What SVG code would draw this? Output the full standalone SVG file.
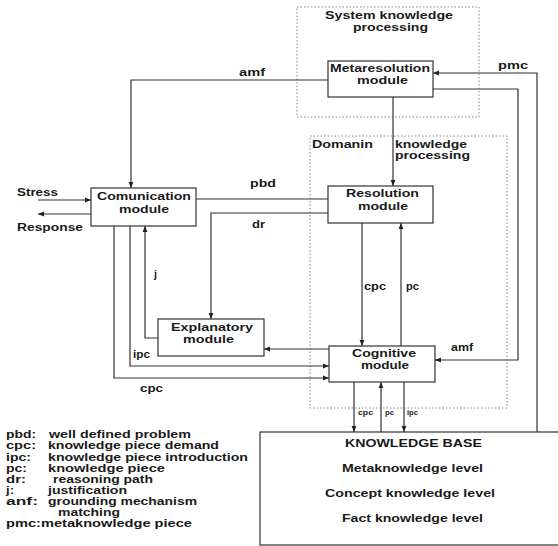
<svg xmlns="http://www.w3.org/2000/svg" width="558" height="546" viewBox="0 0 558 546">
<defs>
<marker id="ah" viewBox="0 0 10 10" refX="10" refY="5" markerWidth="6" markerHeight="6" orient="auto" markerUnits="userSpaceOnUse">
<path d="M0,1 L10,5 L0,9 Z" fill="#222"/>
</marker>
<style>
text{font-family:"Liberation Sans",Arial,sans-serif;font-weight:bold;font-size:11px;fill:#1a1a1a}
.sm{font-size:8px}
.box{fill:#fff;stroke:#333;stroke-width:1.2}
.dot{fill:none;stroke:#888;stroke-width:1;stroke-dasharray:1.5 2}
.c{fill:none;stroke:#333;stroke-width:1.2}
.a{marker-end:url(#ah)}
</style>
</defs>
<rect width="558" height="546" fill="#fff"/>
<g id="regions">
<rect class="dot" x="297" y="7" width="182" height="110"/>
<text x="325" y="19" textLength="128" lengthAdjust="spacingAndGlyphs">System knowledge</text>
<text x="353" y="31" textLength="75" lengthAdjust="spacingAndGlyphs">processing</text>
<rect class="dot" x="310" y="136" width="197" height="272"/>
<text x="312" y="148" textLength="61" lengthAdjust="spacingAndGlyphs">Domanin</text>
<text x="395" y="148" textLength="72" lengthAdjust="spacingAndGlyphs">knowledge</text>
<text x="395" y="159" textLength="75" lengthAdjust="spacingAndGlyphs">processing</text>
</g>
<g id="connectors">
<path class="c a" d="M328,80 H131 V188"/>
<path class="c a" d="M537,432 V73 H433"/>
<path class="c a" d="M433,89 H518 V360 H435"/>
<path class="c a" d="M393,97 V186"/>
<path class="c a" d="M38,200 H91"/>
<path class="c a" d="M91,214 H38"/>
<path class="c" d="M196,199 H328"/>
<path class="c a" d="M328,213 H211 V319"/>
<path class="c a" d="M158,338 H145 V226"/>
<path class="c a" d="M329,349 H264"/>
<path class="c a" d="M130,226 V366 H329"/>
<path class="c a" d="M114,226 V378 H329"/>
<path class="c a" d="M362,223 V346"/>
<path class="c a" d="M401,346 V223"/>
<path class="c a" d="M354,382 V432"/>
<path class="c a" d="M381,432 V382"/>
<path class="c a" d="M404,382 V432"/>
<text x="239" y="76" textLength="26" lengthAdjust="spacingAndGlyphs">amf</text>
<text x="498" y="69" textLength="30" lengthAdjust="spacingAndGlyphs">pmc</text>
<text x="451" y="351" textLength="22" lengthAdjust="spacingAndGlyphs">amf</text>
<text x="17" y="196" textLength="41" lengthAdjust="spacingAndGlyphs">Stress</text>
<text x="17" y="231" textLength="66" lengthAdjust="spacingAndGlyphs">Response</text>
<text x="250" y="187" textLength="26" lengthAdjust="spacingAndGlyphs">pbd</text>
<text x="252" y="228" textLength="13" lengthAdjust="spacingAndGlyphs">dr</text>
<text x="154" y="278">j</text>
<text x="364" y="290" textLength="22" lengthAdjust="spacingAndGlyphs">cpc</text>
<text x="406" y="290" textLength="13" lengthAdjust="spacingAndGlyphs">pc</text>
<text x="133" y="358" textLength="17" lengthAdjust="spacingAndGlyphs">ipc</text>
<text x="140" y="392" textLength="23" lengthAdjust="spacingAndGlyphs">cpc</text>
<text class="sm" x="358" y="415" textLength="15" lengthAdjust="spacingAndGlyphs">cpc</text>
<text class="sm" x="385" y="415" textLength="9" lengthAdjust="spacingAndGlyphs">pc</text>
<text class="sm" x="407" y="415" textLength="11" lengthAdjust="spacingAndGlyphs">ipc</text>
</g>
<g id="metaresolution">
<rect class="box" x="328" y="61" width="105" height="36"/>
<text x="330" y="72" textLength="100" lengthAdjust="spacingAndGlyphs">Metaresolution</text>
<text x="357" y="84" textLength="51" lengthAdjust="spacingAndGlyphs">module</text>
</g>
<g id="comunication">
<rect class="box" x="91" y="188" width="105" height="38"/>
<text x="97" y="200" textLength="94" lengthAdjust="spacingAndGlyphs">Comunication</text>
<text x="119" y="213" textLength="50" lengthAdjust="spacingAndGlyphs">module</text>
</g>
<g id="resolution">
<rect class="box" x="328" y="186" width="105" height="37"/>
<text x="346" y="197" textLength="73" lengthAdjust="spacingAndGlyphs">Resolution</text>
<text x="358" y="210" textLength="50" lengthAdjust="spacingAndGlyphs">module</text>
</g>
<g id="explanatory">
<rect class="box" x="158" y="319" width="106" height="37"/>
<text x="171" y="331" textLength="82" lengthAdjust="spacingAndGlyphs">Explanatory</text>
<text x="183" y="343" textLength="51" lengthAdjust="spacingAndGlyphs">module</text>
</g>
<g id="cognitive">
<rect class="box" x="329" y="346" width="106" height="36"/>
<text x="352" y="357" textLength="64" lengthAdjust="spacingAndGlyphs">Cognitive</text>
<text x="361" y="369" textLength="48" lengthAdjust="spacingAndGlyphs">module</text>
</g>
<g id="knowledge-base">
<rect class="box" x="260" y="432" width="310" height="113"/>
<text x="345" y="447" textLength="137" lengthAdjust="spacingAndGlyphs">KNOWLEDGE BASE</text>
<text x="342" y="472" textLength="141" lengthAdjust="spacingAndGlyphs">Metaknowledge level</text>
<text x="325" y="497" textLength="170" lengthAdjust="spacingAndGlyphs">Concept knowledge level</text>
<text x="342" y="522" textLength="141" lengthAdjust="spacingAndGlyphs">Fact knowledge level</text>
</g>
<g id="legend">
<text x="6" y="438" textLength="30" lengthAdjust="spacingAndGlyphs">pbd:</text>
<text x="49" y="438" textLength="142" lengthAdjust="spacingAndGlyphs">well defined problem</text>
<text x="6" y="449" textLength="30" lengthAdjust="spacingAndGlyphs">cpc:</text>
<text x="48" y="449" textLength="171" lengthAdjust="spacingAndGlyphs">knowledge piece demand</text>
<text x="6" y="461" textLength="25" lengthAdjust="spacingAndGlyphs">ipc:</text>
<text x="48" y="461" textLength="200" lengthAdjust="spacingAndGlyphs">knowledge piece introduction</text>
<text x="6" y="472" textLength="21" lengthAdjust="spacingAndGlyphs">pc:</text>
<text x="48" y="472" textLength="117" lengthAdjust="spacingAndGlyphs">knowledge piece</text>
<text x="6" y="483" textLength="20" lengthAdjust="spacingAndGlyphs">dr:</text>
<text x="53" y="483" textLength="100" lengthAdjust="spacingAndGlyphs">reasoning path</text>
<text x="6" y="494" textLength="8" lengthAdjust="spacingAndGlyphs">j:</text>
<text x="48" y="494" textLength="79" lengthAdjust="spacingAndGlyphs">justification</text>
<text x="6" y="505" textLength="32" lengthAdjust="spacingAndGlyphs">anf:</text>
<text x="48" y="505" textLength="149" lengthAdjust="spacingAndGlyphs">grounding mechanism</text>
<text x="58" y="516" textLength="62" lengthAdjust="spacingAndGlyphs">matching</text>
<text x="6" y="527" textLength="186" lengthAdjust="spacingAndGlyphs">pmc:metaknowledge piece</text>
</g>
</svg>
